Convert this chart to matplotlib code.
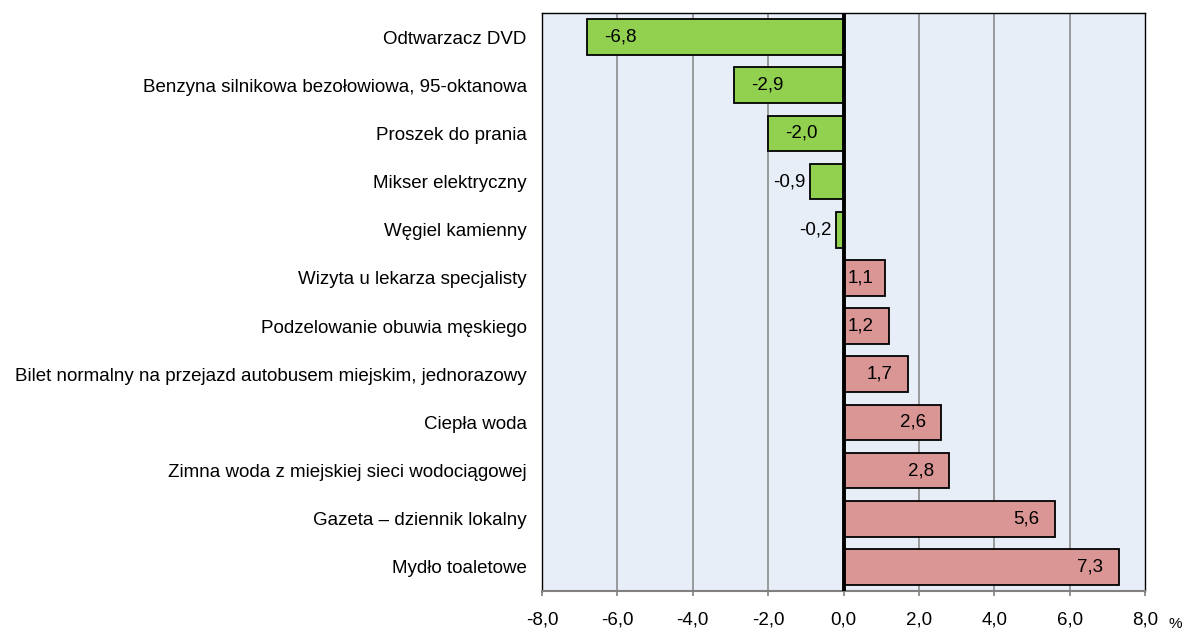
import matplotlib.pyplot as plt
from matplotlib.ticker import FixedLocator

plt.rcParams['font.family'] = ['Liberation Sans', 'DejaVu Sans']

# data
categories = [
    'Odtwarzacz DVD',
    'Benzyna silnikowa bezołowiowa, 95-oktanowa',
    'Proszek do prania',
    'Mikser elektryczny',
    'Węgiel kamienny',
    'Wizyta u lekarza specjalisty',
    'Podzelowanie obuwia męskiego',
    'Bilet normalny na przejazd autobusem miejskim, jednorazowy',
    'Ciepła woda',
    'Zimna woda z miejskiej sieci wodociągowej',
    'Gazeta – dziennik lokalny',
    'Mydło toaletowe',
]
values = [-6.8, -2.9, -2.0, -0.9, -0.2, 1.1, 1.2, 1.7, 2.6, 2.8, 5.6, 7.3]
xticks = [-8, -6, -4, -2, 0, 2, 4, 6, 8]

GREEN = '#92D050'
PINK = '#D99694'
FS = 13.5

def fmt(v):
    return f'{v:.1f}'.replace('.', ',')

fig = plt.figure(figsize=(11.88, 6.33), dpi=100)
ax = fig.add_axes([542 / 1188, 1 - 591 / 633, (1145 - 542) / 1188, (591 - 13) / 633])
ax.set_facecolor('#E8EEF7')

ypos = list(range(len(categories)))
colors = [GREEN if v < 0 else PINK for v in values]
ax.barh(ypos, values, height=0.74, color=colors, edgecolor='black', linewidth=1.3, zorder=3)

ax.set_xlim(-8, 8)
ax.set_ylim(len(categories) - 0.5, -0.5)
ax.xaxis.set_major_locator(FixedLocator(xticks))
ax.set_xticklabels([fmt(t) for t in xticks], fontsize=FS)
ax.set_yticks(ypos)
ax.set_yticklabels(categories, fontsize=FS)
ax.tick_params(axis='y', length=0, pad=11)
ax.tick_params(axis='x', length=3.6, width=1.2, color='#808080', pad=11, direction='out')

for t in xticks[1:-1]:
    if t != 0:
        ax.axvline(t, color='#8C8C8C', linewidth=1.2, zorder=1)
ax.axvline(0, color='black', linewidth=2.8, zorder=4)

for s in ['top', 'left', 'right']:
    ax.spines[s].set_color('black')
    ax.spines[s].set_linewidth(1.0)
ax.spines['bottom'].set_color('#808080')
ax.spines['bottom'].set_linewidth(1.5)

# value labels
for y, v in zip(ypos, values):
    if v < 0:
        if v <= -2:
            ax.annotate(fmt(v), (v, y), xytext=(12, 0), textcoords='offset points',
                        ha='left', va='center', fontsize=FS, zorder=5)
        else:
            ax.annotate(fmt(v), (v, y), xytext=(-3, 0), textcoords='offset points',
                        ha='right', va='center', fontsize=FS, zorder=5)
    else:
        if v >= 1.5:
            ax.annotate(fmt(v), (v, y), xytext=(-11, 0), textcoords='offset points',
                        ha='right', va='center', fontsize=FS, zorder=5)
        else:
            ax.annotate(fmt(v), (0, y), xytext=(3, 0), textcoords='offset points',
                        ha='left', va='center', fontsize=FS, zorder=5)

fig.text(1175 / 1188, 1 - 624 / 633, '%', fontsize=11, ha='center', va='center')

fig.savefig('out.png', dpi=100)
